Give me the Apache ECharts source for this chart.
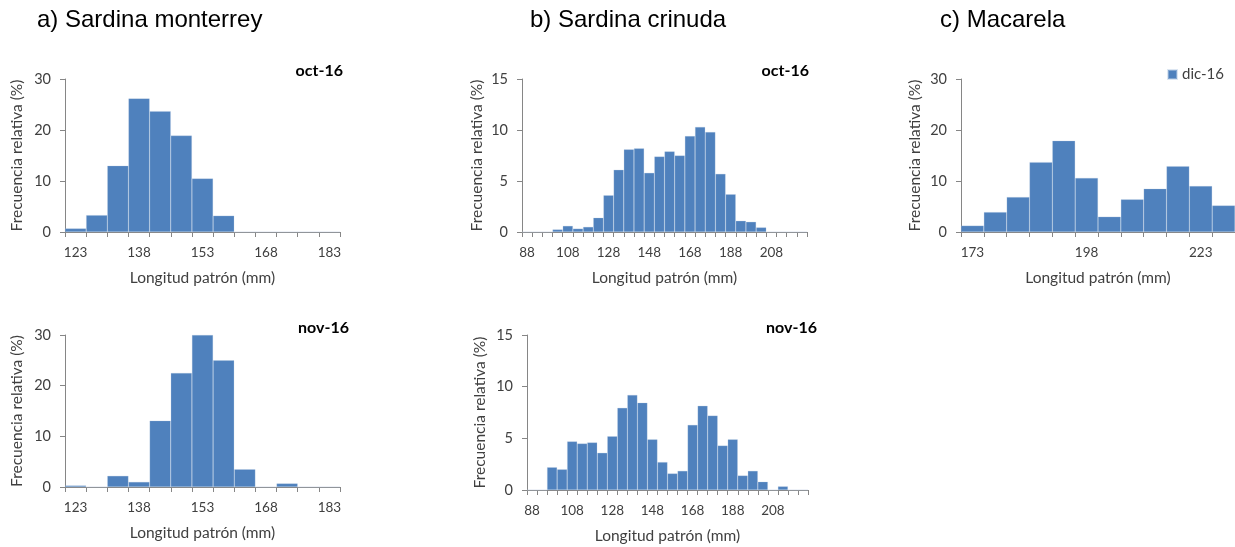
<!DOCTYPE html>
<html>
<head>
<meta charset="utf-8">
<script src="https://cdn.jsdelivr.net/npm/echarts@6/dist/echarts.min.js"></script>
<style>
  html, body { margin: 0; padding: 0; background: #fff; }
  #chart { width: 1235px; height: 547px; }
</style>
</head>
<body>
<div id="chart"></div>
<script>
// clases de talla (mm)
const binsMonterrey = ['123','128','133','138','143','148','153','158','163','168','173','178','183'];
const binsCrinuda = ['88','93','98','103','108','113','118','123','128','133','138','143','148','153',
  '158','163','168','173','178','183','188','193','198','203','208','213','218','223'];
const binsMacarela = ['173','178','183','188','193','198','203','208','213','218','223','228'];

// frecuencia relativa (%)
const monterreyOct = [0.7, 3.3, 13, 26.2, 23.7, 18.9, 10.5, 3.2, 0, 0, 0, 0, 0];
const monterreyNov = [0.3, 0, 2.2, 1.0, 13.1, 22.5, 30, 25, 3.5, 0, 0.7, 0, 0];
const crinudaOct = [0, 0, 0, 0.25, 0.6, 0.33, 0.5, 1.4, 3.6, 6.1, 8.1, 8.2, 5.8, 7.4,
  7.9, 7.5, 9.4, 10.3, 9.8, 5.7, 3.7, 1.1, 1.0, 0.45, 0, 0, 0, 0];
const crinudaNov = [0, 0, 2.2, 2.0, 4.7, 4.5, 4.6, 3.6, 5.2, 7.95, 9.2, 8.45, 4.9, 2.7,
  1.6, 1.85, 6.3, 8.15, 7.2, 4.3, 4.9, 1.4, 1.85, 0.8, 0, 0.35, 0, 0];
const macarelaDic = [1.25, 3.9, 6.85, 13.7, 17.9, 10.6, 3.0, 6.4, 8.5, 12.9, 9.0, 5.2];

const BLUE = '#4f81bd';
const AXIS = '#868686';
const TXT = '#404040';
const FONT = 'Lato';

const chart = echarts.init(document.getElementById('chart'));

const grids = [
  { left: 65, top: 79, width: 275, height: 153 },
  { left: 522, top: 79, width: 285, height: 153 },
  { left: 961, top: 79, width: 274, height: 153 },
  { left: 65, top: 335, width: 275, height: 152 },
  { left: 527, top: 335, width: 281, height: 155 }
];

const xAxisFor = (i, data, labelInterval) => ({
  type: 'category',
  gridIndex: i,
  data: data,
  name: 'Longitud patrón (mm)',
  nameLocation: 'middle',
  nameGap: 38,
  nameTextStyle: { fontFamily: FONT, fontSize: 15.5, color: TXT },
  axisLine: { show: true, lineStyle: { color: AXIS } },
  axisTick: { show: true, interval: 0, length: 5, lineStyle: { color: AXIS } },
  axisLabel: { interval: labelInterval, fontFamily: FONT, fontSize: 13.5, color: TXT, margin: 14 },
  splitLine: { show: false }
});

const yAxisFor = (i, max, interval, gap) => ({
  type: 'value',
  gridIndex: i,
  min: 0,
  max: max,
  interval: interval,
  name: 'Frecuencia relativa (%)',
  nameLocation: 'middle',
  nameGap: gap,
  nameTextStyle: { fontFamily: FONT, fontSize: 15.5, color: TXT },
  axisLine: { show: true, lineStyle: { color: AXIS } },
  axisTick: { show: true, length: 5, lineStyle: { color: AXIS } },
  axisLabel: { fontFamily: FONT, fontSize: 14.5, color: TXT, margin: 14 },
  splitLine: { show: false }
});

const barSeries = (i, name, data) => ({
  type: 'bar',
  name: name,
  xAxisIndex: i,
  yAxisIndex: i,
  data: data,
  barCategoryGap: '0%',
  itemStyle: { color: BLUE, borderColor: 'rgba(185,205,229,0.5)', borderWidth: 0.5 },
  emphasis: { disabled: true }
});

const title = (x, y, text) => ({
  type: 'text', left: x, top: y,
  style: { text: text, fontFamily: 'Liberation Sans', fontSize: 24, fill: '#000' }
});
const month = (right, y, text) => ({
  type: 'text', x: right, y: y,
  style: { text: text, fontFamily: FONT, fontSize: 16, fontWeight: 'bold', fill: '#000', align: 'right', verticalAlign: 'middle' }
});

chart.setOption({
  animation: false,
  grid: grids,
  xAxis: [
    xAxisFor(0, binsMonterrey, 2),
    xAxisFor(1, binsCrinuda, 3),
    xAxisFor(2, binsMacarela, 4),
    xAxisFor(3, binsMonterrey, 2),
    xAxisFor(4, binsCrinuda, 3)
  ],
  yAxis: [
    yAxisFor(0, 30, 10, 40),
    yAxisFor(1, 15, 5, 37),
    yAxisFor(2, 30, 10, 38),
    yAxisFor(3, 30, 10, 40),
    yAxisFor(4, 15, 5, 39)
  ],
  legend: {
    data: ['dic-16'],
    right: 6,
    top: 62,
    icon: 'rect',
    itemWidth: 9,
    itemHeight: 9,
    itemGap: 4,
    textStyle: { fontFamily: FONT, fontSize: 15, color: TXT }
  },
  series: [
    barSeries(0, 'oct-16', monterreyOct),
    barSeries(1, 'oct-16', crinudaOct),
    barSeries(2, 'dic-16', macarelaDic),
    barSeries(3, 'nov-16', monterreyNov),
    barSeries(4, 'nov-16', crinudaNov)
  ],
  graphic: [
    title(37, 8, 'a) Sardina monterrey'),
    title(530, 8, 'b) Sardina crinuda'),
    title(940, 8, 'c) Macarela'),
    month(343, 71, 'oct-16'),
    month(809, 71, 'oct-16'),
    month(349, 328, 'nov-16'),
    month(817, 328, 'nov-16')
  ]
});
</script>
</body>
</html>
